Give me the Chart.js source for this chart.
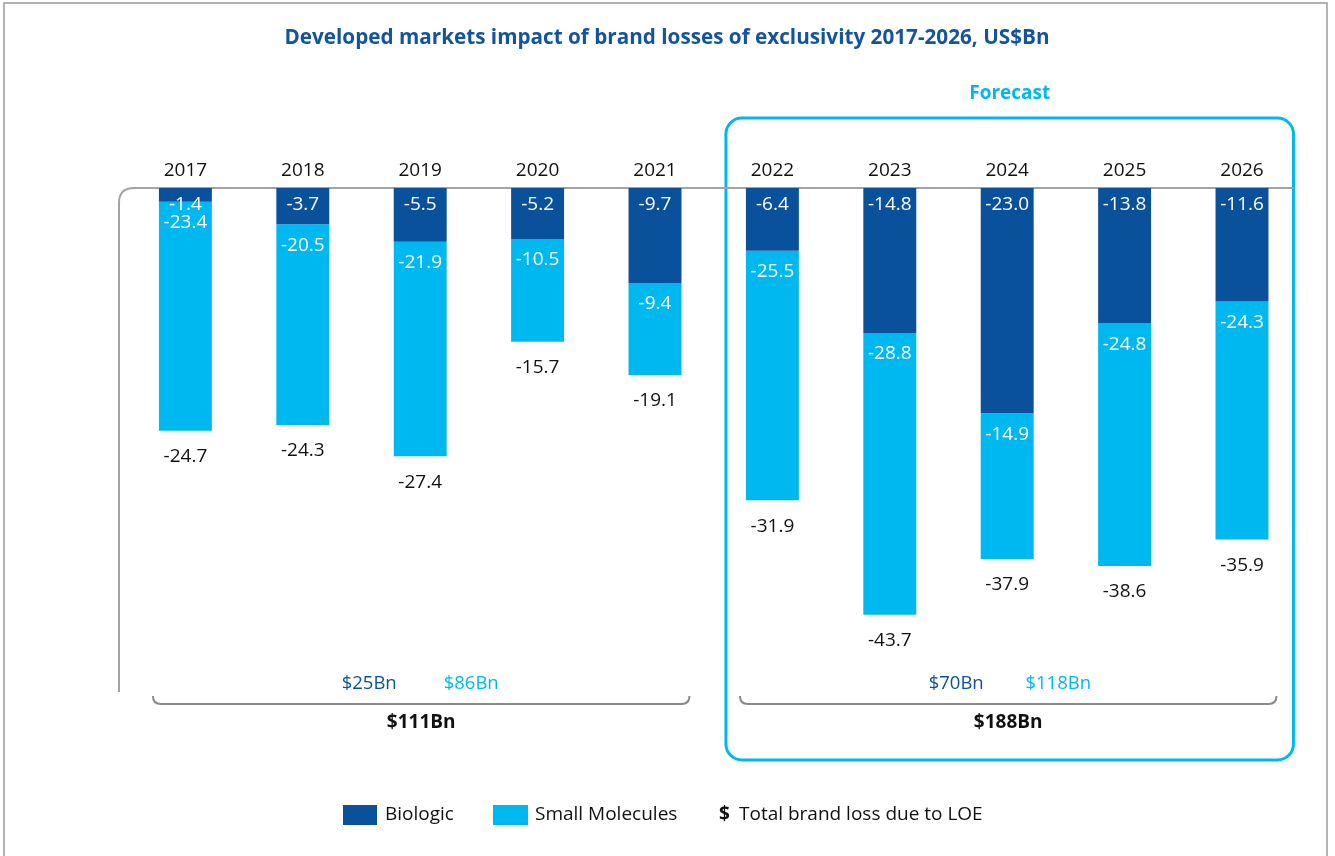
<!DOCTYPE html>
<html>
<head>
<meta charset="utf-8">
<script src="https://cdn.jsdelivr.net/npm/chart.js@4"></script>
<style>
  body { margin: 0; background: #fff; }
  #chart { display: block; }
</style>
</head>
<body>
<canvas id="chart" width="1335" height="856"></canvas>
<script>
// Data
const years = ['2017', '2018', '2019', '2020', '2021', '2022', '2023', '2024', '2025', '2026'];
const biologic = [-1.4, -3.7, -5.5, -5.2, -9.7, -6.4, -14.8, -23.0, -13.8, -11.6];
const smallMolecules = [-23.4, -20.5, -21.9, -10.5, -9.4, -25.5, -28.8, -14.9, -24.8, -24.3];
const totals = [-24.7, -24.3, -27.4, -15.7, -19.1, -31.9, -43.7, -37.9, -38.6, -35.9];
const periodBiologic = ['$25Bn', '$70Bn'];
const periodSmall = ['$86Bn', '$118Bn'];
const periodTotal = ['$111Bn', '$188Bn'];
const forecastStart = 5;

const DARK = '#0a519c';
const CYAN = '#00b8f0';
const FONT = '"Open Sans", "Noto Sans", sans-serif';

function text(ctx, str, x, y, font, color, align) {
    ctx.font = font;
    ctx.fillStyle = color;
    ctx.textAlign = align || 'center';
    ctx.textBaseline = 'middle';
    ctx.fillText(str, x, y);
}

function bracket(ctx, x1, x2, y) {
    ctx.beginPath();
    ctx.moveTo(x1, y - 8);
    ctx.quadraticCurveTo(x1, y, x1 + 8, y);
    ctx.lineTo(x2 - 8, y);
    ctx.quadraticCurveTo(x2, y, x2, y - 8);
    ctx.stroke();
}

const decorations = {
    id: 'decorations',
    beforeDatasetsDraw(chart) {
        const ctx = chart.ctx;
        const bars = chart.getDatasetMeta(0).data;
        const zeroY = chart.scales.y.getPixelForValue(0);
        ctx.save();

        // outer frame
        ctx.strokeStyle = '#9a9a9a';
        ctx.lineWidth = 1.5;
        ctx.strokeRect(4, 3, 1323, 900);

        // title, fitted to reference width
        const title = 'Developed markets impact of brand losses of exclusivity 2017-2026, US$Bn';
        ctx.font = 'bold 20px ' + FONT;
        const size = 20 * 767 / ctx.measureText(title).width;
        text(ctx, title, 667, 38, 'bold ' + size.toFixed(1) + 'px ' + FONT, '#12549e');

        // forecast box
        const first = bars[forecastStart];
        const last = bars[bars.length - 1];
        const boxL = first.x - first.width / 2 - 20;
        const boxR = last.x + last.width / 2 + 25;
        ctx.strokeStyle = CYAN;
        ctx.lineWidth = 3;
        ctx.beginPath();
        ctx.roundRect(boxL, 118, boxR - boxL, 642, 16);
        ctx.stroke();
        text(ctx, 'Forecast', (boxL + boxR) / 2, 94, 'bold 19px ' + FONT, CYAN);

        // axis line with rounded corner
        ctx.strokeStyle = '#a3a3a3';
        ctx.lineWidth = 2;
        ctx.beginPath();
        ctx.moveTo(119, 692);
        ctx.lineTo(119, zeroY + 15);
        ctx.quadraticCurveTo(119, zeroY, 134, zeroY);
        ctx.lineTo(boxR, zeroY);
        ctx.stroke();

        // year labels
        bars.forEach((b, i) => text(ctx, years[i], b.x, 171, '19px ' + FONT, '#111'));

        // period brackets and sums
        ctx.strokeStyle = '#8a8a8a';
        ctx.lineWidth = 2;
        const groups = [[0, forecastStart - 1], [forecastStart, bars.length - 1]];
        groups.forEach(([a, z], g) => {
            const x1 = bars[a].x - bars[a].width / 2 - 6;
            const x2 = bars[z].x + bars[z].width / 2 + 8;
            bracket(ctx, x1, x2, 704);
            const c = (x1 + x2) / 2;
            text(ctx, periodBiologic[g], c - 52, 684, '18.5px ' + FONT, DARK);
            text(ctx, periodSmall[g], c + 50, 684, '18.5px ' + FONT, CYAN);
            text(ctx, periodTotal[g], c, 723, 'bold 19px ' + FONT, '#111');
        });

        // legend
        ctx.fillStyle = DARK;
        ctx.fillRect(343, 805, 34, 20);
        text(ctx, 'Biologic', 385, 815, '19px ' + FONT, '#111', 'left');
        ctx.fillStyle = CYAN;
        ctx.fillRect(493, 805, 35, 20);
        text(ctx, 'Small Molecules', 535, 815, '19px ' + FONT, '#111', 'left');
        text(ctx, '$', 719, 815, 'bold 19px ' + FONT, '#111', 'left');
        text(ctx, 'Total brand loss due to LOE', 739, 815, '19px ' + FONT, '#111', 'left');
        ctx.restore();
    },
    afterDatasetsDraw(chart) {
        const ctx = chart.ctx;
        const dark = chart.getDatasetMeta(0).data;
        const cyan = chart.getDatasetMeta(1).data;
        ctx.save();
        dark.forEach((b, i) => {
            text(ctx, biologic[i].toFixed(1), b.x, Math.min(b.base, b.y) + 17, '19px ' + FONT, '#fff');
        });
        cyan.forEach((b, i) => {
            const top = Math.min(b.base, b.y);
            const bottom = Math.max(b.base, b.y);
            text(ctx, smallMolecules[i].toFixed(1), b.x, top + 21, '19px ' + FONT, '#fff');
            text(ctx, totals[i].toFixed(1), b.x, bottom + 26, '19px ' + FONT, '#111');
        });
        ctx.restore();
    }
};

new Chart(document.getElementById('chart'), {
    type: 'bar',
    data: {
        labels: years,
        datasets: [
            { label: 'Biologic', data: biologic, backgroundColor: DARK },
            { label: 'Small Molecules', data: smallMolecules, backgroundColor: CYAN }
        ]
    },
    options: {
        responsive: false,
        animation: false,
        layout: { padding: { top: 188, left: 126.7, right: 34.3, bottom: 178.5 } },
        datasets: { bar: { barPercentage: 1, categoryPercentage: 0.451, borderWidth: 0 } },
        scales: {
            x: { stacked: true, display: false },
            y: { stacked: true, display: false, min: -50, max: 0 }
        },
        plugins: {
            legend: { display: false },
            tooltip: { enabled: false }
        }
    },
    plugins: [decorations]
});
</script>
</body>
</html>
